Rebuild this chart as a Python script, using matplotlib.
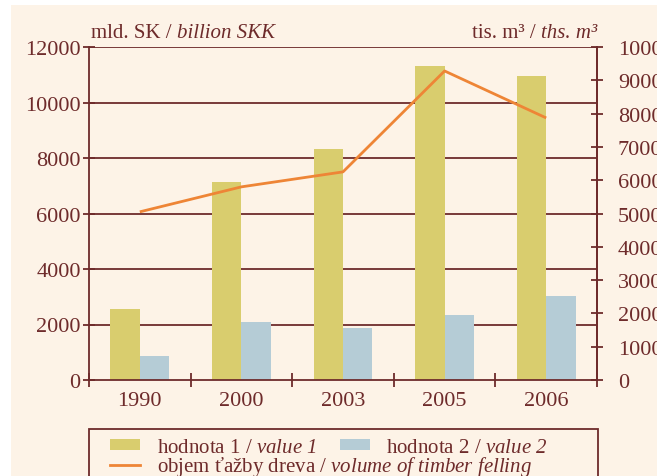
import matplotlib
matplotlib.use("Agg")
import matplotlib.pyplot as plt
import numpy as np
from matplotlib.patches import Rectangle, Patch
from matplotlib.lines import Line2D

plt.rcParams['font.family'] = ['Liberation Serif', 'DejaVu Serif']
plt.rcParams['mathtext.fontset'] = 'custom'
plt.rcParams['mathtext.rm'] = 'Liberation Serif'
plt.rcParams['mathtext.it'] = 'Liberation Serif:italic'
plt.rcParams['mathtext.sf'] = 'Liberation Serif:italic'

years = ['1990', '2000', '2003', '2005', '2006']
value1 = [2570, 7120, 8330, 11320, 10960]
value2 = [870, 2100, 1880, 2350, 3030]
timber = [5050, 5800, 6250, 9280, 7870]

brown = '#6E2B2B'
cream = '#FDF3E7'
yellow = '#D9CD6E'
blue = '#B5CCD6'
orange = '#EE8536'


def ital(s):
    return ' '.join(r'$\mathsf{%s}$' % wd for wd in s.split(' '))


fig = plt.figure(figsize=(6.57, 4.77), dpi=100)
fig.patch.set_facecolor('white')
fig.add_artist(Rectangle((11/657, 0), 1, (477-6)/477, transform=fig.transFigure,
                         facecolor=cream, edgecolor='none', zorder=-10))

ax = fig.add_axes([89/657, 1-381/477, 508/657, 333/477])
ax.set_facecolor('none')
x = np.arange(len(years))
w = 0.29
ax.bar(x - w/2, value1, width=w, color=yellow, zorder=2)
ax.bar(x + w/2, value2, width=w, color=blue, zorder=2)
ax.set_xlim(-0.5, 4.5)
ax.set_ylim(0, 12000)
ax.set_yticks(np.arange(0, 12001, 2000))
for yv in np.arange(2000, 12001, 2000):
    ax.axhline(yv, color=brown, lw=1.3, zorder=1)
ax.spines['top'].set_visible(False)
for s in ['left', 'bottom', 'right']:
    ax.spines[s].set_color(brown)
    ax.spines[s].set_linewidth(1.3)
ax.tick_params(axis='y', direction='inout', length=8, width=1.3, color=brown,
               labelcolor=brown, labelsize=16, pad=2)
ax.set_xticks(x)
ax.set_xticklabels(years)
ax.set_xticks(np.arange(-0.5, 4.6, 1), minor=True)
ax.tick_params(axis='x', which='major', length=0, labelcolor=brown, labelsize=16, pad=8)
ax.tick_params(axis='x', which='minor', direction='inout', length=10, width=1.3, color=brown)

ax2 = ax.twinx()
ax2.set_ylim(0, 10000)
ax2.set_yticks(np.arange(0, 10001, 1000))
ax2.plot(x, timber, color=orange, lw=2.0, zorder=5, solid_capstyle='butt')
for s in ['top', 'left', 'bottom']:
    ax2.spines[s].set_visible(False)
ax2.spines['right'].set_color(brown)
ax2.spines['right'].set_linewidth(1.3)
ax2.tick_params(axis='y', direction='inout', length=8, width=1.3, color=brown,
                labelcolor=brown, labelsize=16, pad=11)

# axis titles (normal + italic parts)
tl = fig.text(91/657, 1-38/477, 'mld. SK / ', color=brown, fontsize=15,
              ha='left', va='baseline')
fig.add_artist(plt.Annotation('billion SKK', xy=(1, 0), xycoords=tl, ha='left',
                              va='bottom', color=brown, fontsize=15, style='italic'))
tr = fig.text(597/657, 1-38/477, 'ths. m³', color=brown, fontsize=15,
              ha='right', va='baseline', style='italic')
fig.add_artist(plt.Annotation('tis. m³ / ', xy=(0, 0), xycoords=tr, ha='right',
                              va='bottom', color=brown, fontsize=15))

# legend frame
fig.add_artist(Rectangle((89/657, -0.05), 509/657, 0.05 + (477-430)/477,
                         transform=fig.transFigure, facecolor='none',
                         edgecolor=brown, linewidth=1.3, zorder=3))

leg_kw = dict(loc='upper left', bbox_transform=fig.transFigure, frameon=False,
              fontsize=15, labelcolor=brown, handlelength=1.45, handleheight=0.42,
              handletextpad=0.8, borderaxespad=0, borderpad=0, columnspacing=1.1)
legA = fig.legend([Patch(facecolor=yellow, edgecolor='none'),
                   Patch(facecolor=blue, edgecolor='none')],
                  ['hodnota 1 / ' + ital('value 1'), 'hodnota 2 / ' + ital('value 2')],
                  ncol=2, bbox_to_anchor=(110/657, 1-439/477), **leg_kw)
legB = fig.legend([Line2D([0], [0], color=orange, lw=2.0)],
                  ['objem ťažby dreva / ' + ital('volume of timber felling')],
                  ncol=1, bbox_to_anchor=(110/657, 1-455/477), **leg_kw)

fig.savefig('out.png', dpi=100)
